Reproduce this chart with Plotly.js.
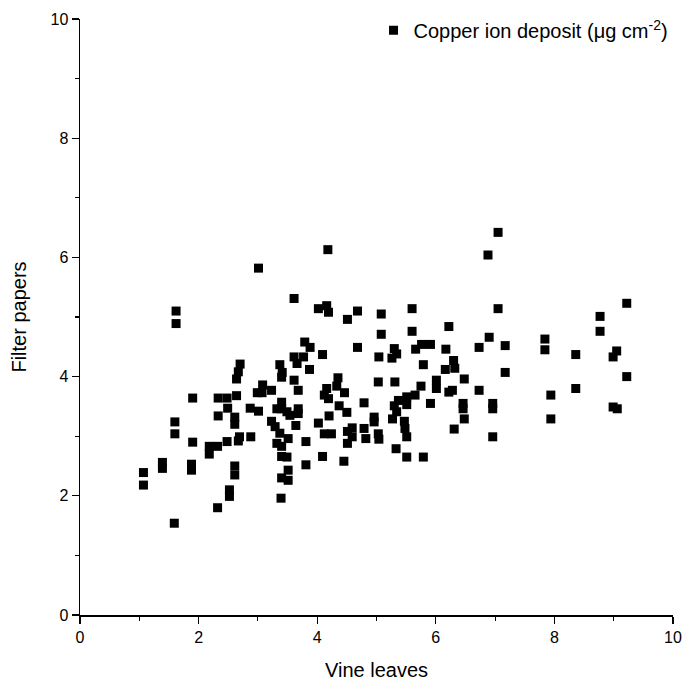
<!DOCTYPE html>
<html>
<head>
<meta charset="utf-8">
<script src="https://cdn.plot.ly/plotly-3.0.1.min.js"></script>
<style>html,body{margin:0;padding:0;background:#fff;}#chart{width:688px;height:693px;}</style>
</head>
<body>
<div id="chart"></div>
<script>
const seriesName = "Copper ion deposit (\u03bcg cm<sup>-2</sup>)";
const xTitle = "Vine leaves";
const yTitle = "Filter papers";
const tickValues = [0, 2, 4, 6, 8, 10];
const tickLabels = ["0", "2", "4", "6", "8", "10"];

const vineLeaves = [
  1.07,1.07,1.39,1.39,1.60,1.60,1.59,1.62,1.62,1.90,
  1.90,1.88,1.88,2.33,2.48,2.49,2.33,2.64,2.64,2.67,
  2.70,2.61,2.61,2.48,2.32,2.18,2.18,2.69,2.67,2.88,
  2.61,2.61,2.52,2.52,2.32,2.87,3.01,2.99,3.08,3.07,
  3.23,3.40,3.40,3.40,3.32,3.49,3.54,3.23,3.29,3.37,
  3.32,3.40,3.51,3.40,3.49,3.51,3.40,3.51,3.39,3.01,
  3.61,3.37,3.41,3.61,3.66,3.61,3.68,3.68,3.68,3.64,
  3.81,3.81,3.79,3.88,3.77,3.87,4.09,4.18,4.02,4.16,
  4.19,4.51,4.68,5.08,5.08,5.60,5.60,6.22,6.88,6.90,
  6.73,4.68,5.04,5.30,5.34,5.26,5.66,5.76,5.91,6.17,
  5.79,6.30,6.32,6.16,6.48,4.35,4.33,4.46,4.16,4.12,
  4.19,4.37,4.50,4.20,4.02,4.12,4.24,4.51,4.59,4.59,
  4.51,4.09,4.45,4.79,5.03,5.31,4.79,4.82,4.96,4.96,
  5.03,5.04,5.33,5.37,5.30,5.27,5.34,5.51,5.51,5.65,
  5.75,5.47,5.48,5.51,5.51,5.79,6.01,6.01,5.91,6.22,
  6.28,6.46,6.46,6.48,6.31,6.73,6.96,6.96,6.96,7.05,
  7.05,7.17,7.17,7.84,7.84,8.36,8.77,8.77,9.05,8.99,
  9.22,9.22,7.94,7.94,8.36,8.99,9.06
];
const filterPapers = [
  2.39,2.18,2.56,2.46,3.24,3.04,1.54,5.10,4.89,3.64,
  2.90,2.53,2.43,3.64,3.64,3.47,3.34,3.68,3.96,4.08,
  4.21,3.32,3.20,2.91,2.83,2.83,2.70,2.99,2.92,2.99,
  2.50,2.35,2.10,1.99,1.80,3.47,3.42,3.73,3.86,3.73,
  3.77,3.99,3.57,3.46,3.46,3.41,3.35,3.25,3.16,3.05,
  2.88,2.83,2.96,2.66,2.65,2.43,2.30,2.26,1.96,5.82,
  5.31,4.20,4.07,4.33,4.22,3.94,3.77,3.46,3.38,3.18,
  2.91,2.52,4.58,4.49,4.33,4.12,4.37,6.13,5.14,5.19,
  5.08,4.96,5.10,5.05,4.71,5.14,4.76,4.84,6.04,4.66,
  4.49,4.49,4.33,4.47,4.38,4.31,4.46,4.54,4.54,4.46,
  4.20,4.27,4.14,4.12,3.96,3.98,3.84,3.73,3.80,3.69,
  3.63,3.51,3.40,3.34,3.22,3.04,3.04,3.08,3.14,2.99,
  2.88,2.66,2.58,3.56,3.91,3.91,3.13,2.96,3.32,3.24,
  3.04,2.95,2.79,3.60,3.51,3.29,3.41,3.66,3.53,3.69,
  3.84,3.25,3.13,2.99,2.65,2.65,3.94,3.80,3.55,3.74,
  3.77,3.55,3.46,3.29,3.12,3.77,3.55,3.46,2.99,6.42,
  5.14,4.52,4.07,4.63,4.45,4.37,5.01,4.76,4.43,4.33,
  5.23,4.00,3.69,3.29,3.80,3.49,3.46
];

const fontFam = "'Liberation Sans Narrow', 'Arial Narrow', 'Liberation Sans', Arial, sans-serif";

const trace = {
  x: vineLeaves,
  y: filterPapers,
  type: 'scatter',
  mode: 'markers',
  name: seriesName,
  marker: {symbol: 'square', size: 9, color: '#000000'}
};

const axisCommon = {
  range: [0, 10],
  tickvals: tickValues,
  ticktext: tickLabels,
  ticks: 'outside',
  ticklen: 7,
  tickwidth: 1.3,
  tickcolor: '#000',
  showline: true,
  linecolor: '#000',
  linewidth: 1.5,
  showgrid: false,
  zeroline: false,
  tickfont: {family: fontFam, size: 16, color: '#000'},
  minor: {dtick: 1, tick0: 0, ticks: 'outside', ticklen: 4, tickwidth: 1.2, tickcolor: '#000', showgrid: false}
};

const layout = {
  width: 688,
  height: 693,
  margin: {l: 80, r: 15, t: 18, b: 78},
  paper_bgcolor: '#fff',
  plot_bgcolor: '#fff',
  showlegend: true,
  legend: {
    x: 0.495, y: 1.012, xanchor: 'left', yanchor: 'top',
    font: {family: fontFam, size: 20, color: '#000'},
    bgcolor: 'rgba(0,0,0,0)'
  },
  xaxis: Object.assign({}, axisCommon, {
    title: {text: xTitle, font: {family: fontFam, size: 20, color: '#000'}, standoff: 18}
  }),
  yaxis: Object.assign({}, axisCommon, {
    title: {text: yTitle, font: {family: fontFam, size: 20, color: '#000'}, standoff: 18}
  })
};

Plotly.newPlot('chart', [trace], layout, {displayModeBar: false, staticPlot: true});
</script>
</body>
</html>
